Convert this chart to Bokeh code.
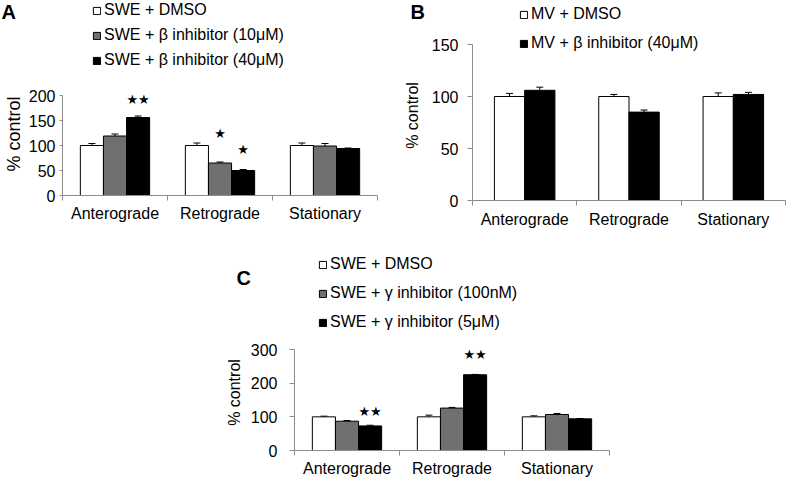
from bokeh.plotting import figure
from bokeh.models import (ColumnDataSource, Whisker, TeeHead, FixedTicker, Legend,
                          LegendItem, Label, Range1d, Spacer)
from bokeh.layouts import column, row
from bokeh.core.properties import value
from bokeh.embed import file_html
from bokeh.resources import INLINE

categories = ["Anterograde", "Retrograde", "Stationary"]

# Panel A
a_series = ["SWE + DMSO", "SWE + β inhibitor (10μM)", "SWE + β inhibitor (40μM)"]
a_dmso = [100, 100, 100]
a_dmso_err = [4, 5, 5]
a_b10 = [119, 65, 99]
a_b10_err = [4, 2, 5]
a_b40 = [156, 50, 94]
a_b40_err = [3, 2, 1]
a_ticks = [0, 50, 100, 150, 200]
# (mark, category index, series index, y position)
a_stars = [("★★", 0, 2, 192), ("★", 1, 1, 124), ("★", 1, 2, 92)]

# Panel B
b_series = ["MV + DMSO", "MV + β inhibitor (40μM)"]
b_dmso = [100, 100, 100]
b_dmso_err = [3, 2, 3.5]
b_b40 = [106, 85, 102]
b_b40_err = [3, 2, 2]
b_ticks = [0, 50, 100, 150]

# Panel C
c_series = ["SWE + DMSO", "SWE + γ inhibitor (100nM)", "SWE + γ inhibitor (5μM)"]
c_dmso = [100, 100, 100]
c_dmso_err = [2, 5, 3]
c_g100 = [87, 126, 107]
c_g100_err = [2, 2, 3]
c_g5 = [73, 225, 94]
c_g5_err = [2, 1, 1]
c_ticks = [0, 100, 200, 300]
c_stars = [("★★", 0, 2, 117), ("★★", 1, 2, 285)]

FONT = "Liberation Sans"
AXIS_GRAY = "#8c8c8c"
GRAY = "#707070"


def no_align(fig):
    try:
        fig.frame_align = False
    except Exception:
        pass


def make_legend(items, loc, spacing):
    return Legend(items=items, location=loc, orientation="vertical",
                  glyph_width=9, glyph_height=9, label_standoff=3, label_height=19,
                  spacing=spacing, padding=0, margin=0,
                  border_line_color=None, background_fill_alpha=0,
                  label_text_font=FONT, label_text_font_size="16px",
                  label_text_color="black")


def make_header(width, height, letter, letter_xy, names, vals_list, colors, legend_loc, spacing):
    """Panel letter and legend, drawn in a strip above the chart.
    The series renderers here only feed the legend swatches; the y range of the
    strip lies far above the data, so the bars themselves stay out of view."""
    h = figure(width=width, height=height, output_backend="svg", toolbar_location=None,
               x_axis_type=None, y_axis_type=None, x_range=Range1d(0, len(categories)),
               y_range=Range1d(10000, 10001), min_border_left=0, min_border_right=0,
               min_border_top=0, min_border_bottom=0, title=None)
    no_align(h)
    h.outline_line_color = None
    h.grid.visible = False
    h.background_fill_color = "white"
    h.border_fill_color = "white"
    items = []
    for name, vals, col in zip(names, vals_list, colors):
        r = h.vbar(x=[i + 0.5 for i in range(len(categories))], top=vals, width=0.2,
                   fill_color=col, line_color="black", line_width=1)
        items.append(LegendItem(label=name, renderers=[r]))
    if items:
        h.add_layout(make_legend(items, legend_loc, spacing))
    h.add_layout(Label(x=letter_xy[0], y=letter_xy[1], x_units="screen", y_units="screen",
                       text=letter, text_font=FONT, text_font_size="20px",
                       text_font_style="bold", text_align="left", text_baseline="top",
                       text_color="black"))
    return h


def make_panel(width, height, borders, y_end, y_bound, ticks, series_names, series_vals,
               series_errs, colors, bar_w, legend_idx, legend_loc, legend_spacing,
               stars, ytitle_size, ylab_standoff, ytick_out, ytitle_standoff, xlab_standoff):
    left, right, top, bottom = borders
    p = figure(width=width, height=height, output_backend="svg", toolbar_location=None,
               x_range=Range1d(0, len(categories)), y_range=Range1d(0, y_end),
               min_border_left=left, min_border_right=right, min_border_top=top,
               min_border_bottom=bottom, title=None)
    no_align(p)
    p.outline_line_color = None
    p.xgrid.visible = False
    p.ygrid.visible = False
    p.background_fill_color = "white"
    p.border_fill_color = "white"

    n = len(series_names)
    items = []
    for j, (name, vals, errs, col) in enumerate(zip(series_names, series_vals, series_errs, colors)):
        xs = [i + 0.5 + (j - (n - 1) / 2) * bar_w for i in range(len(categories))]
        src = ColumnDataSource(dict(x=xs, top=vals,
                                    upper=[v + e for v, e in zip(vals, errs)],
                                    lower=[v - e for v, e in zip(vals, errs)]))
        r = p.vbar(x="x", top="top", width=bar_w, source=src, fill_color=col,
                   line_color="black", line_width=1)
        if j in legend_idx:
            items.append(LegendItem(label=name, renderers=[r]))
        w = Whisker(base="x", upper="upper", lower="lower", source=src,
                    line_color="black", line_width=1,
                    upper_head=TeeHead(size=7, line_color="black", line_width=1),
                    lower_head=TeeHead(size=7, line_color="black", line_width=1))
        p.add_layout(w)

    if items:
        p.add_layout(make_legend(items, legend_loc, legend_spacing))

    if stars:
        sx = [s[1] + 0.5 + (s[2] - (n - 1) / 2) * bar_w for s in stars]
        sy = [s[3] for s in stars]
        st = [s[0] for s in stars]
        p.text(x=sx, y=sy, text=st, text_font=value("DejaVu Sans"), text_font_size="13px",
               text_align="center", text_baseline="middle", text_color="black")

    # x axis: labels centred on categories, divider ticks between them
    xa = p.xaxis[0]
    xa.ticker = FixedTicker(ticks=[i + 0.5 for i in range(len(categories))],
                            minor_ticks=list(range(len(categories) + 1)))
    xa.major_label_overrides = {i + 0.5: c for i, c in enumerate(categories)}
    xa.major_tick_out = 0
    xa.major_tick_in = 0
    xa.minor_tick_out = 5
    xa.minor_tick_in = 0
    xa.minor_tick_line_color = AXIS_GRAY
    xa.axis_line_color = AXIS_GRAY
    xa.major_label_text_font = FONT
    xa.major_label_text_font_size = "16px"
    xa.major_label_text_color = "black"
    xa.major_label_standoff = xlab_standoff

    # y axis
    ya = p.yaxis[0]
    ya.ticker = FixedTicker(ticks=ticks, minor_ticks=[])
    ya.bounds = (0, y_bound)
    ya.major_tick_out = ytick_out
    ya.major_tick_in = 0
    ya.major_tick_line_color = AXIS_GRAY
    ya.axis_line_color = AXIS_GRAY
    ya.major_label_text_font = FONT
    ya.major_label_text_font_size = "16px"
    ya.major_label_text_color = "black"
    ya.major_label_standoff = ylab_standoff
    ya.axis_label = "% control"
    ya.axis_label_text_font = FONT
    ya.axis_label_text_font_style = "normal"
    ya.axis_label_text_font_size = ytitle_size
    ya.axis_label_text_color = "black"
    ya.axis_label_standoff = ytitle_standoff
    return p


A_COLORS = ["white", GRAY, "black"]
B_COLORS = ["white", "black"]
C_COLORS = ["white", GRAY, "black"]

hA = make_header(390, 72, "A", (1, 72), a_series, [a_dmso, a_b10, a_b40], A_COLORS,
                 (92, 2.5), 6)
pA = make_panel(390, 162, (62, 13, 0, 39), 246, 200, a_ticks, a_series,
                [a_dmso, a_b10, a_b40], [a_dmso_err, a_b10_err, a_b40_err],
                A_COLORS, 0.22, [], None, 6, a_stars, "18px", 4, 3, 2, 4)

hB = make_header(398, 30, "B", (20, 30), b_series[:1], [b_dmso], B_COLORS[:1],
                 (129, 6.5), 10)
pB = make_panel(398, 204, (82, 3, 0, 34), 163.5, 150, b_ticks, b_series,
                [b_dmso, b_b40], [b_dmso_err, b_b40_err],
                B_COLORS, 0.29, [1], (47, 147.5), 10, [], "16px", 9, 5, 8, 5)

hC = make_header(430, 100, "C", (46, 68), c_series, [c_dmso, c_g100, c_g5], C_COLORS,
                 (128, 2.5), 10)
pC = make_panel(430, 145, (104, 11, 0, 29), 344.6, 300, c_ticks, c_series,
                [c_dmso, c_g100, c_g5], [c_dmso_err, c_g100_err, c_g5_err],
                C_COLORS, 0.22, [], None, 10, c_stars, "16px", 12, 5, 5, 4)

layout = column(row(column(hA, pA), column(hB, pB)),
                row(Spacer(width=190, height=245), column(hC, pC)))

open("out.html", "w").write(file_html(layout, INLINE))
